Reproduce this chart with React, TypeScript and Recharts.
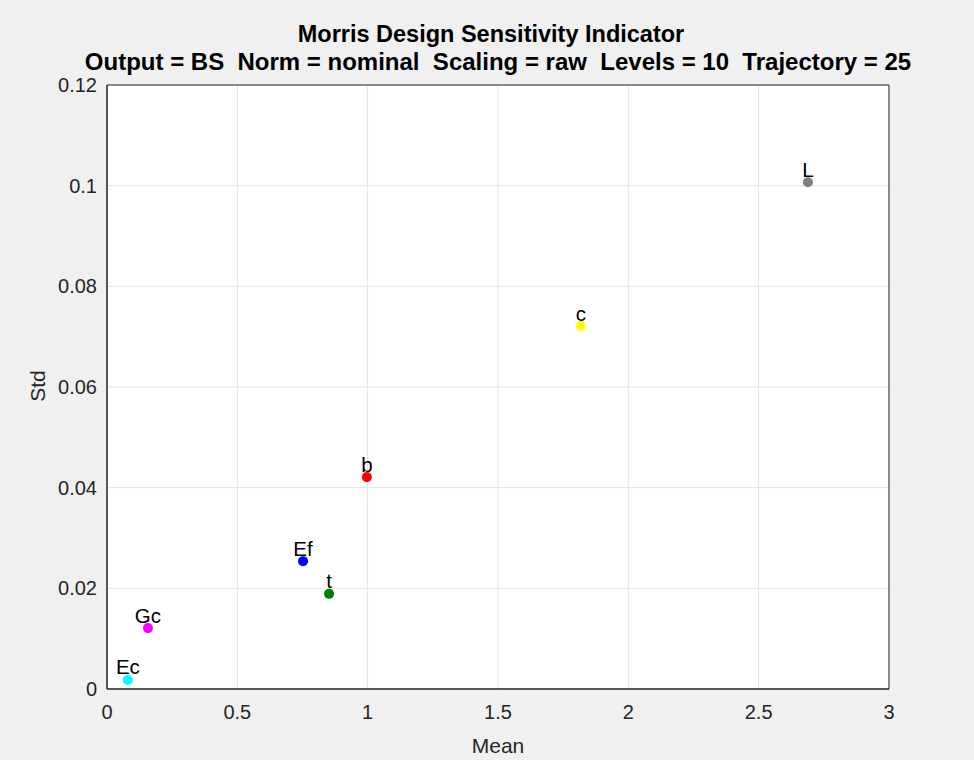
import React from 'react';
import { ScatterChart, Scatter, XAxis, YAxis, CartesianGrid, Cell, LabelList, ReferenceArea } from 'recharts';

const names = ['Ec', 'Gc', 'Ef', 't', 'b', 'c', 'L'];
const meanValues = [0.08, 0.157, 0.752, 0.852, 0.997, 1.818, 2.689];
const stdValues = [0.0018, 0.0121, 0.0254, 0.0189, 0.0421, 0.0721, 0.1007];
const colors = ['#00ffff', '#ff00ff', '#0000ff', '#008000', '#ff0000', '#ffff00', '#808080'];
const xTicks = [0, 0.5, 1, 1.5, 2, 2.5, 3];
const yTicks = [0, 0.02, 0.04, 0.06, 0.08, 0.1, 0.12];

const data = names.map((n, i) => ({ name: n, mean: meanValues[i], std: stdValues[i] }));

const FONT = 'Arial, "Liberation Sans", Helvetica, sans-serif';
const TXT = '#262626';

const Dot = (props: any) => {
  const { cx, cy, fill } = props;
  return <circle cx={cx} cy={cy} r={5} fill={fill} />;
};

const PointLabel = (props: any) => {
  const { x, y, width, value } = props;
  const cx = x + (width || 0) / 2;
  return (
    <text x={cx} y={y - 1} textAnchor="middle" fontSize={20.5} fontFamily={FONT} fill="#000">
      {value}
    </text>
  );
};

export default function App() {
  return (
    <div style={{ position: 'absolute', left: 0, top: 0, width: 974, height: 760, background: '#f0f0f0' }}>
      <svg width={974} height={760} style={{ position: 'absolute', left: 0, top: 0 }}>
        <text x={491} y={42} textAnchor="middle" fontSize={23.5} fontWeight="bold" fontFamily={FONT} fill="#000">
          Morris Design Sensitivity Indicator
        </text>
        <text x={498} y={70} textAnchor="middle" fontSize={24} fontWeight="bold" fontFamily={FONT} fill="#000" style={{ whiteSpace: 'pre' }}>
          {'Output = BS  Norm = nominal  Scaling = raw  Levels = 10  Trajectory = 25'}
        </text>
        <text x={498} y={753} textAnchor="middle" fontSize={21} fontFamily={FONT} fill={TXT}>
          Mean
        </text>
        <text x={0} y={0} transform="translate(45,386) rotate(-90)" textAnchor="middle" fontSize={21} fontFamily={FONT} fill={TXT}>
          Std
        </text>
      </svg>
      <div style={{ position: 'absolute', left: 0, top: 0 }}>
        <ScatterChart width={974} height={760} margin={{ top: 85, right: 85, left: 47, bottom: 31 }}>
          <CartesianGrid stroke="#e3e3e3" fill="#ffffff" horizontalValues={yTicks} verticalValues={xTicks} />
          <XAxis
            type="number"
            dataKey="mean"
            domain={[0, 3]}
            ticks={xTicks}
            height={40}
            tickLine={false}
            axisLine={{ stroke: TXT }}
            tick={{ fill: TXT, fontSize: 20, fontFamily: FONT }}
            tickMargin={10}
            interval={0}
          />
          <YAxis
            type="number"
            dataKey="std"
            domain={[0, 0.12]}
            ticks={yTicks}
            width={60}
            tickLine={false}
            axisLine={{ stroke: TXT }}
            tick={{ fill: TXT, fontSize: 20, fontFamily: FONT }}
            tickMargin={4}
            interval={0}
          />
          <ReferenceArea x1={0} x2={3} y1={0} y2={0.12} fill="none" fillOpacity={0} stroke={TXT} strokeWidth={1} />
          <Scatter data={data} isAnimationActive={false} shape={<Dot />}>
            {data.map((d, i) => (
              <Cell key={d.name} fill={colors[i]} />
            ))}
            <LabelList dataKey="name" content={<PointLabel />} />
          </Scatter>
        </ScatterChart>
      </div>
    </div>
  );
}
